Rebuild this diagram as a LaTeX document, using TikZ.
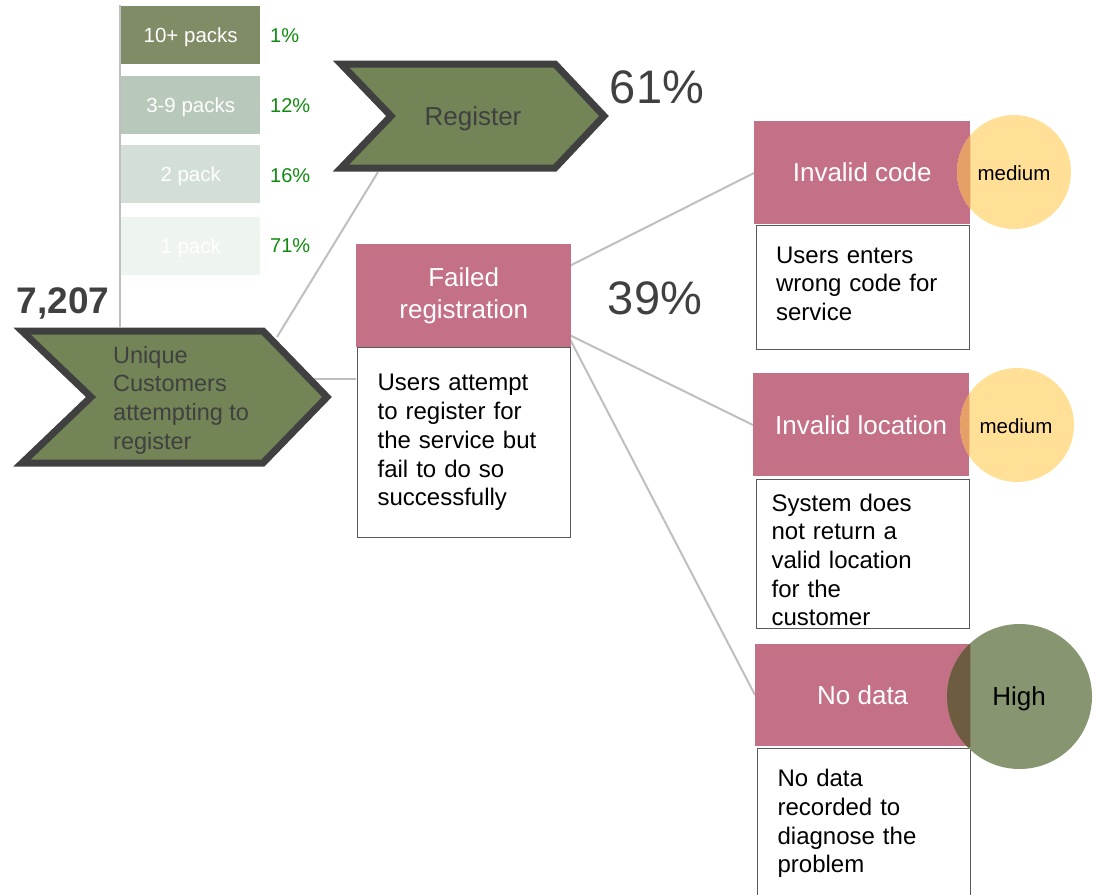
\documentclass[tikz,border=0pt]{standalone}
\usepackage{fontspec}
\setmainfont{Liberation Sans}
\definecolor{linegray}{HTML}{BFBFBF}
\definecolor{chevborder}{HTML}{404040}
\definecolor{chevfill}{HTML}{738457}
\definecolor{chevtext}{HTML}{404040}
\definecolor{barA}{HTML}{7F8C66}
\definecolor{barB}{HTML}{B8C8BA}
\definecolor{barC}{HTML}{D3DFD6}
\definecolor{barD}{HTML}{EEF4EE}
\definecolor{pctgreen}{HTML}{118A11}
\definecolor{pinkc}{HTML}{C47086}
\definecolor{descborder}{HTML}{595959}
\definecolor{medfill}{HTML}{FFE096}
\definecolor{medover}{HTML}{E4A066}
\definecolor{highfill}{HTML}{879670}
\definecolor{highover}{HTML}{6E5C40}
\definecolor{bigtext}{HTML}{404040}
\pgfdeclarelayer{background}
\pgfsetlayers{background,main}
\tikzset{
  conn/.style={draw=linegray, line width=2pt},
  chev/.style={draw=chevborder, fill=chevfill, line width=7pt, line join=miter},
  barbox/.style={anchor=north west, minimum width=139pt, minimum height=58pt, inner sep=0pt, text=white, text depth=0pt, font=\fontsize{20.5}{24}\selectfont},
  pct/.style={anchor=west, text=pctgreen, inner sep=0pt, text depth=0pt, font=\fontsize{20}{24}\selectfont},
  titlebox/.style={anchor=north west, fill=pinkc, text=white, inner sep=0pt, align=center, font=\fontsize{26}{32}\selectfont},
  descbox/.style={anchor=north west, draw=descborder, line width=1.2pt, fill=white, inner xsep=20pt, inner ysep=0pt, align=left, font=\fontsize{24}{28.7}\selectfont},
  bigpct/.style={text=bigtext, inner sep=0pt, font=\fontsize{47}{50}\selectfont},
  ratecircle/.style={circle, inner sep=0pt, draw=none},
  ratelabel/.style={inner sep=0pt, text=black},
}
\begin{document}
\begin{tikzpicture}[x=1pt,y=-1pt]
\useasboundingbox (0,0) rectangle (1096,895);
% coordinates for connectors
\coordinate (vtop) at (120,5);
\coordinate (vbot) at (120,327);
\coordinate (ucTR) at (277,337);
\coordinate (regB) at (378,172);
\coordinate (ucR) at (310,379);
% title boxes
\node[titlebox, minimum width=215pt, minimum height=103pt] (fr) at (356,244) {Failed\\registration};
\node[titlebox, minimum width=216pt, minimum height=103pt] (ic) at (754,121) {Invalid code};
\node[titlebox, minimum width=216pt, minimum height=103pt] (il) at (753,373) {Invalid location};
\node[titlebox, minimum width=215pt, minimum height=102pt] (nd) at (755,644) {No data};
% connectors (behind shapes)
\begin{pgfonlayer}{background}
\draw[conn] (vtop) -- (vbot);
\draw[conn] (ucTR) -- (regB);
\draw[conn] (ucR) -- (ucR -| fr.west);
\draw[conn] ([xshift=-4pt,yshift=-23pt]fr.north east) -- ([yshift=-52pt]ic.north west);
\draw[conn] ([xshift=-4pt,yshift=-90pt]fr.north east) -- ([yshift=-52pt]il.north west);
\draw[conn] ([xshift=-1pt,yshift=-96pt]fr.north east) -- ([yshift=-51pt]nd.north west);
\end{pgfonlayer}
% bars
\node[barbox, fill=barA] (b1) at (121,6) {10+ packs};
\node[barbox, fill=barB] (b2) at (121,76) {3-9 packs};
\node[barbox, fill=barC] (b3) at (121,145) {2 pack};
\node[barbox, fill=barD] (b4) at (121,217) {1 pack};
\node[pct] (p1) at (270,36) {1\%};
\node[pct] (p2) at (270,106) {12\%};
\node[pct] (p3) at (270,176) {16\%};
\node[pct] (p4) at (270,246) {71\%};
% total
\node[inner sep=0pt, text=bigtext, font=\bfseries\fontsize{37}{40}\selectfont] (tot) at (63,303) {7,207};
% chevrons
\draw[chev] (22,331) -- (263,331) -- (327,397) -- (263,463) -- (22,463) -- (91,397) -- cycle;
\node[anchor=west, inner sep=0pt, align=left, text=chevtext, font=\fontsize{23.5}{28.7}\selectfont] (uc) at (113,400) {Unique\\Customers\\attempting to\\register};
\draw[chev] (341,64) -- (555,64) -- (604,116) -- (555,168) -- (341,168) -- (391,116) -- cycle;
\node[inner sep=0pt, text=chevtext, font=\fontsize{26}{30}\selectfont] (reg) at (473,119) {Register};
% big percentages
\node[bigpct] (p61) at (657,87) {61\%};
\node[bigpct] (p39) at (655,298) {39\%};
% description boxes
\node[descbox, text width=173pt, minimum height=190pt] (frd) at (357,347) {Users attempt\\to register for\\the service but\\fail to do so\\successfully};
\node[descbox, text width=174pt, inner xsep=19.5pt, minimum height=124pt, text height=9pt] (icd) at (756,225) {Users enters\\wrong code for\\service};
\node[descbox, text width=183pt, inner xsep=15pt, minimum height=149pt, text height=29pt] (ild) at (756,479) {System does\\not return a\\valid location\\for the\\customer};
\node[descbox, text width=173pt, minimum height=150pt] (ndd) at (757,748) {No data\\recorded to\\diagnose the\\problem};
% rating circles
\node[ratecircle, fill=medfill, minimum size=114pt] (c1) at (1014,172) {};
\begin{scope}
  \clip (ic.north west) rectangle (ic.south east);
  \fill[medover] (c1.center) circle (57pt);
\end{scope}
\node[ratelabel, font=\fontsize{20.5}{24}\selectfont] (t1) at (1014,173) {medium};
\node[ratecircle, fill=medfill, minimum size=114pt] (c2) at (1017,425) {};
\begin{scope}
  \clip (il.north west) rectangle (il.south east);
  \fill[medover] (c2.center) circle (57pt);
\end{scope}
\node[ratelabel, font=\fontsize{20.5}{24}\selectfont] (t2) at (1016,426) {medium};
\node[ratecircle, fill=highfill, minimum size=145pt] (c3) at (1019.5,696.5) {};
\begin{scope}
  \clip (nd.north west) rectangle (nd.south east);
  \fill[highover] (c3.center) circle (72.5pt);
\end{scope}
\node[ratelabel, font=\fontsize{26}{30}\selectfont] (t3) at (1019,699) {High};
\end{tikzpicture}
\end{document}
